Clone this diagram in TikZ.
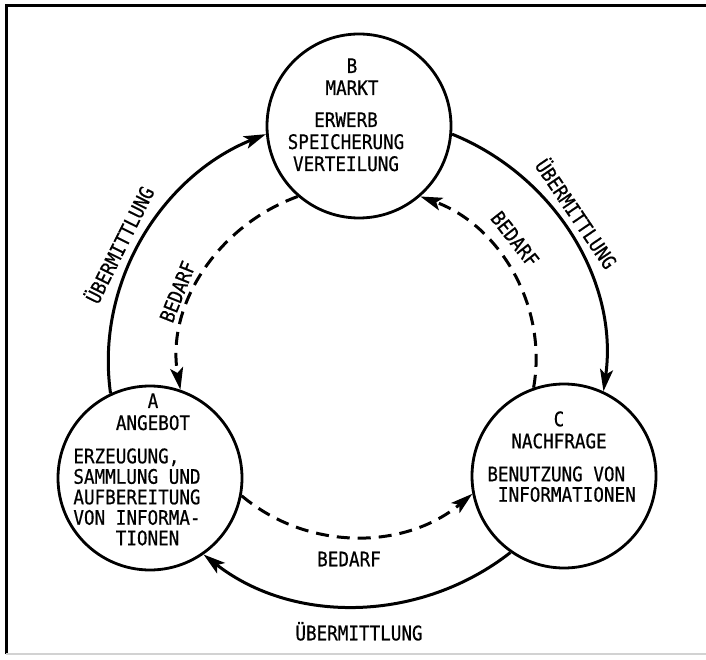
\documentclass[tikz,border=0pt]{standalone}
\usepackage{fontspec}
\newfontfamily\plotfont[FakeStretch=0.88,FakeBold=0.6]{DejaVu Sans Mono}
\usetikzlibrary{arrows.meta}
\begin{document}
\begin{tikzpicture}[x=0.5pt,y=0.5pt,
  stage/.style={circle, draw, line width=1.4pt, minimum size=92pt, inner sep=0pt},
  flow/.style={line width=1.5pt, -{Stealth[length=11pt,width=6.5pt,inset=2.5pt]}, looseness=0.95},
  need/.style={flow, dash pattern=on 6.5pt off 4pt, looseness=0.965},
  txt/.style={font=\plotfont\fontsize{10}{11}\selectfont, inner sep=0pt},
  txtn/.style={font=\plotfont\fontsize{10}{10.25}\selectfont, inner sep=0pt},
  lbl/.style={txt, text height=7.3pt, text depth=0pt}]
\useasboundingbox (0,0) rectangle (706,659);
% frame
\draw[line width=1.5pt] (706,653) -- (6,653) -- (6,5);
\draw[gray!35, line width=0.6pt] (6,5) -- (706,5);
% stages
\node[stage] (A) at (150,181) {};
\node[stage] (B) at (359,533) {};
\node[stage] (C) at (564,183) {};
% texts in circles
\node[txt, align=center, anchor=north] (Bh) at (352,601) {B\\MARKT};
\node[txt, align=center, anchor=north] (Bb) at (346,547) {ERWERB\\SPEICHERUNG\\VERTEILUNG};
\node[txt, align=center, anchor=north] (Ah) at (153,266) {A\\ANGEBOT};
\node[txtn, align=left, anchor=north west] (Ab) at (73,211) {ERZEUGUNG,\\SAMMLUNG UND\\AUFBEREITUNG\\VON INFORMA-\\\phantom{VON }TIONEN};
\node[txt, align=center, anchor=north] (Ch) at (559,248) {C\\NACHFRAGE};
\node[txtn, align=left, anchor=north west] (Cb) at (487,193) {BENUTZUNG VON\\\phantom{B}INFORMATIONEN};
% solid flows (Übermittlung)
\draw[flow] (A.115) to[out=98, in=202] (B.185);
\draw[flow] (B.355) to[out=-22, in=82] (C.65);
\draw[flow] (C.235) to[out=218, in=-38] (A.305);
% dashed flows (Bedarf)
\draw[need] (B.229) to[out=200, in=100] (A.71);
\draw[need] (A.349) to[out=320, in=220] (C.191);
\draw[need] (C.109) to[out=80, in=-20] (B.311);
% labels
\node[lbl, rotate=63.5] (uL) at (120,414) {ÜBERMITTLUNG};
\node[lbl, rotate=-55.8] (uR) at (576,445) {ÜBERMITTLUNG};
\node[lbl] (uB) at (359,26) {ÜBERMITTLUNG};
\node[lbl, rotate=68.3] (bL) at (177.5,367.3) {BEDARF};
\node[lbl, rotate=-51.9] (bR) at (515,420) {BEDARF};
\node[lbl] (bB) at (349,100) {BEDARF};
\end{tikzpicture}
\end{document}
